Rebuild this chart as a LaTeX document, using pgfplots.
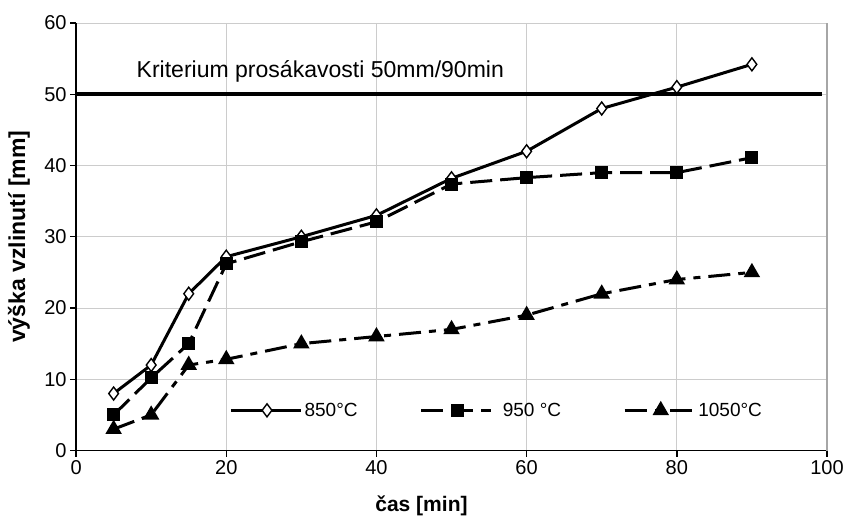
\documentclass[border=0pt]{standalone}
\usepackage{pgfplots}
\pgfplotsset{compat=1.18}
\usepackage{fontspec}
\setmainfont{Liberation Sans}

\begin{document}
\begin{tikzpicture}
\begin{axis}[
    scale only axis,
    width=750bp, height=427bp,
    xmin=0, xmax=100, ymin=0, ymax=60,
    xtick={0,20,...,100}, ytick={0,10,...,60},
    axis x line*=bottom, axis y line*=left,
    axis line style={line width=1.8bp, black},
    tick style={line width=1.4bp, black},
    tick align=outside, major tick length=6bp,
    grid=major,
    major grid style={line width=0.7bp, gray!40},
    tick label style={font=\fontsize{20bp}{22bp}\selectfont},
    /pgf/number format/assume math mode=true,
    xlabel={\textbf{čas [min]}},
    ylabel={\textbf{výška vzlinutí [mm]}},
    xlabel style={font=\fontsize{21bp}{23bp}\selectfont, at={(axis description cs:0.46,0)}, anchor=center, yshift=-55bp},
    ylabel style={font=\fontsize{23bp}{25bp}\selectfont, at={([xshift=-57bp]axis description cs:0,0.5)}, anchor=center},
    legend columns=3,
    legend style={draw=none, fill=none, at={(0.2,0.094)}, anchor=west,
        font=\fontsize{19bp}{21bp}\selectfont,
        /tikz/every even column/.append style={column sep=60bp}},
    legend image code/.code={
        \draw[mark repeat=2,mark phase=2,#1] plot coordinates {(0bp,0bp) (36bp,0bp) (70bp,0bp)};},
    clip=false,
]
% right border
\draw[gray!70, line width=1.4bp] (axis cs:100,0) -- (axis cs:100,60);
\addplot[black, line width=3bp, mark=diamond*, mark size=6.5bp, mark options={fill=white, solid, line width=1.4bp}]
coordinates {(5,8) (10,12) (15,22) (20,27.2) (30,30) (40,33) (50,38.2) (60,42) (70,48) (80,51) (90,54.2)};
\addlegendentry{850°C}
\addplot[black, line width=3bp, dash pattern=on 22bp off 8bp, mark=square*, mark size=5bp, mark options={solid}]
coordinates {(5,5) (10,10.2) (15,15) (20,26.2) (30,29.3) (40,32.1) (50,37.4) (60,38.3) (70,39) (80,39) (90,41.1)};
\addlegendentry{\hspace{8bp}950 °C}
\addplot[black, line width=3bp, dash pattern=on 22bp off 8bp on 7bp off 8bp, mark=triangle*, mark size=6.5bp, mark options={solid}]
coordinates {(5,3) (10,5) (15,12) (20,12.8) (30,15) (40,16) (50,17) (60,19) (70,22) (80,24) (90,25)};
\addlegendentry{1050°C}
\addplot[black, line width=3.6bp, forget plot] coordinates {(0,50) (99.3,50)};
\node[anchor=base west, font=\fontsize{23bp}{25bp}\selectfont] at (axis cs:7.6,52.3) {Kriterium prosákavosti 50mm/90min};
\end{axis}
\pgfresetboundingbox
\path[use as bounding box] ([shift={(-76bp,-67bp)}]current axis.south west) rectangle ([shift={(18bp,23bp)}]current axis.north east);
\end{tikzpicture}
\end{document}
